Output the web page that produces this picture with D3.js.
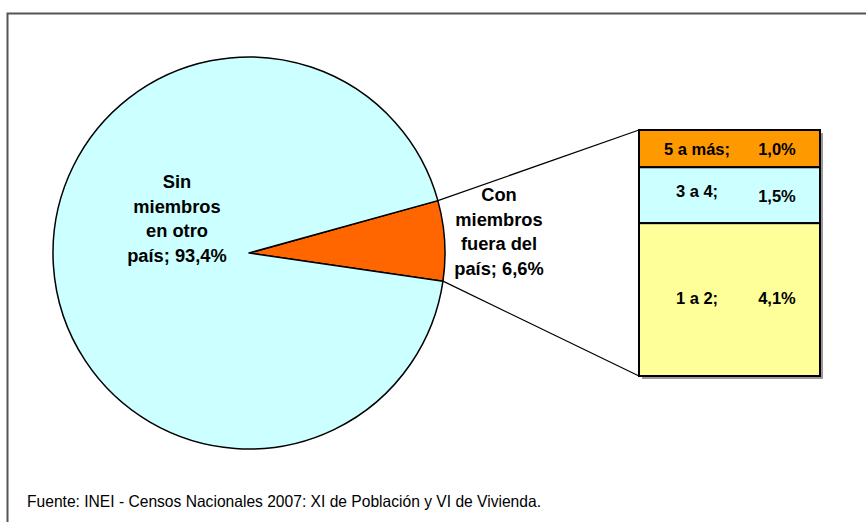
<!DOCTYPE html>
<html>
<head>
<meta charset="utf-8">
<script src="https://cdn.jsdelivr.net/npm/d3@7"></script>
<style>
  body { margin: 0; background: #fff; }
  svg { display: block; }
  text { font-family: "Liberation Sans", Arial, sans-serif; font-weight: bold; fill: #000; }
</style>
</head>
<body>
<svg id="chart" width="866" height="522"></svg>
<script>
// pie data
const pieLabels = [["Con", "miembros", "fuera del", "país; 6,6%"], ["Sin", "miembros", "en otro", "país; 93,4%"]];
const pieValues = [6.6, 93.4];
const pieColors = ["#FF6600", "#CCFFFF"];

// breakdown of the small slice (top to bottom)
const barNames = ["5 a más;", "3 a 4;", "1 a 2;"];
const barValues = [1.0, 1.5, 4.1];
const barValueLabels = ["1,0%", "1,5%", "4,1%"];
const barColors = ["#FF9900", "#CCFFFF", "#FFFF99"];

const source = "Fuente: INEI - Censos Nacionales 2007: XI de Población y VI de Vivienda.";

const svg = d3.select("#chart");

// outer frame
svg.append("rect")
    .attr("x", 7.5).attr("y", 13.5)
    .attr("width", 900).attr("height", 540)
    .attr("fill", "none")
    .attr("stroke", "#555")
    .attr("stroke-width", 2);

const cx = 249, cy = 253, r = 196;
const start = 74.5 * Math.PI / 180;

const pie = d3.pie().sort(null).startAngle(start).endAngle(start + 2 * Math.PI);
const arcs = pie(pieValues);
const arc = d3.arc().innerRadius(0).outerRadius(r);

const g = svg.append("g").attr("transform", `translate(${cx},${cy})`);
g.selectAll("path")
    .data(arcs)
    .enter().append("path")
    .attr("d", arc)
    .attr("fill", (d, i) => pieColors[i])
    .attr("stroke", "#000")
    .attr("stroke-width", 1.5)
    .attr("stroke-linejoin", "round");

// bar of pie
const barX = 639, barW = 181;
const total = d3.sum(barValues);
const y = d3.scaleLinear().domain([0, total]).range([130, 376]);
const cum = d3.cumsum(barValues);
const segs = barValues.map((v, i) => ({ v, y0: cum[i] - v, y1: cum[i], i }));

// connector lines from slice edges to bar corners
const small = arcs[0];
const pt = a => [cx + r * Math.sin(a), cy - r * Math.cos(a)];
const pTop = pt(small.startAngle), pBot = pt(small.endAngle);
svg.append("line")
    .attr("x1", pTop[0]).attr("y1", pTop[1])
    .attr("x2", barX).attr("y2", y(0))
    .attr("stroke", "#000").attr("stroke-width", 1.2);
svg.append("line")
    .attr("x1", pBot[0]).attr("y1", pBot[1])
    .attr("x2", barX).attr("y2", y(total))
    .attr("stroke", "#000").attr("stroke-width", 1.2);

// faint shadow behind the bar
svg.append("rect")
    .attr("x", barX + 3).attr("y", y(0) + 3)
    .attr("width", barW).attr("height", y(total) - y(0))
    .attr("fill", "#999");

svg.selectAll("rect.seg")
    .data(segs)
    .enter().append("rect")
    .attr("class", "seg")
    .attr("x", barX)
    .attr("y", d => y(d.y0))
    .attr("width", barW)
    .attr("height", d => y(d.y1) - y(d.y0))
    .attr("fill", d => barColors[d.i])
    .attr("stroke", "#000")
    .attr("stroke-width", 2);

// label nudges inside segments
const nameDy = [1, -4, -1];
const valDy = [1, 1, -1];
svg.selectAll("text.bname")
    .data(segs)
    .enter().append("text")
    .attr("class", "bname")
    .attr("x", 697)
    .attr("y", d => (y(d.y0) + y(d.y1)) / 2 + nameDy[d.i])
    .attr("dy", "0.35em")
    .attr("text-anchor", "middle")
    .style("font-size", "16.5px")
    .text(d => barNames[d.i]);
svg.selectAll("text.bval")
    .data(segs)
    .enter().append("text")
    .attr("class", "bval")
    .attr("x", 777)
    .attr("y", d => (y(d.y0) + y(d.y1)) / 2 + valDy[d.i])
    .attr("dy", "0.35em")
    .attr("text-anchor", "middle")
    .style("font-size", "16.5px")
    .text(d => barValueLabels[d.i]);

// pie labels
const labelPos = [[499, 201], [177, 188]];
pieLabels.forEach((lines, i) => {
    const t = svg.append("text")
        .attr("text-anchor", "middle")
        .style("font-size", "18.3px");
    lines.forEach((line, j) => {
        t.append("tspan")
            .attr("x", labelPos[i][0])
            .attr("y", labelPos[i][1] + j * 24.6)
            .text(line);
    });
});

// source note
svg.append("text")
    .attr("x", 27).attr("y", 507)
    .attr("textLength", 514)
    .attr("lengthAdjust", "spacingAndGlyphs")
    .style("font-family", "'Liberation Sans Narrow', 'Liberation Sans', Arial, sans-serif")
    .style("font-weight", "normal")
    .style("font-size", "16.5px")
    .text(source);
</script>
</body>
</html>
